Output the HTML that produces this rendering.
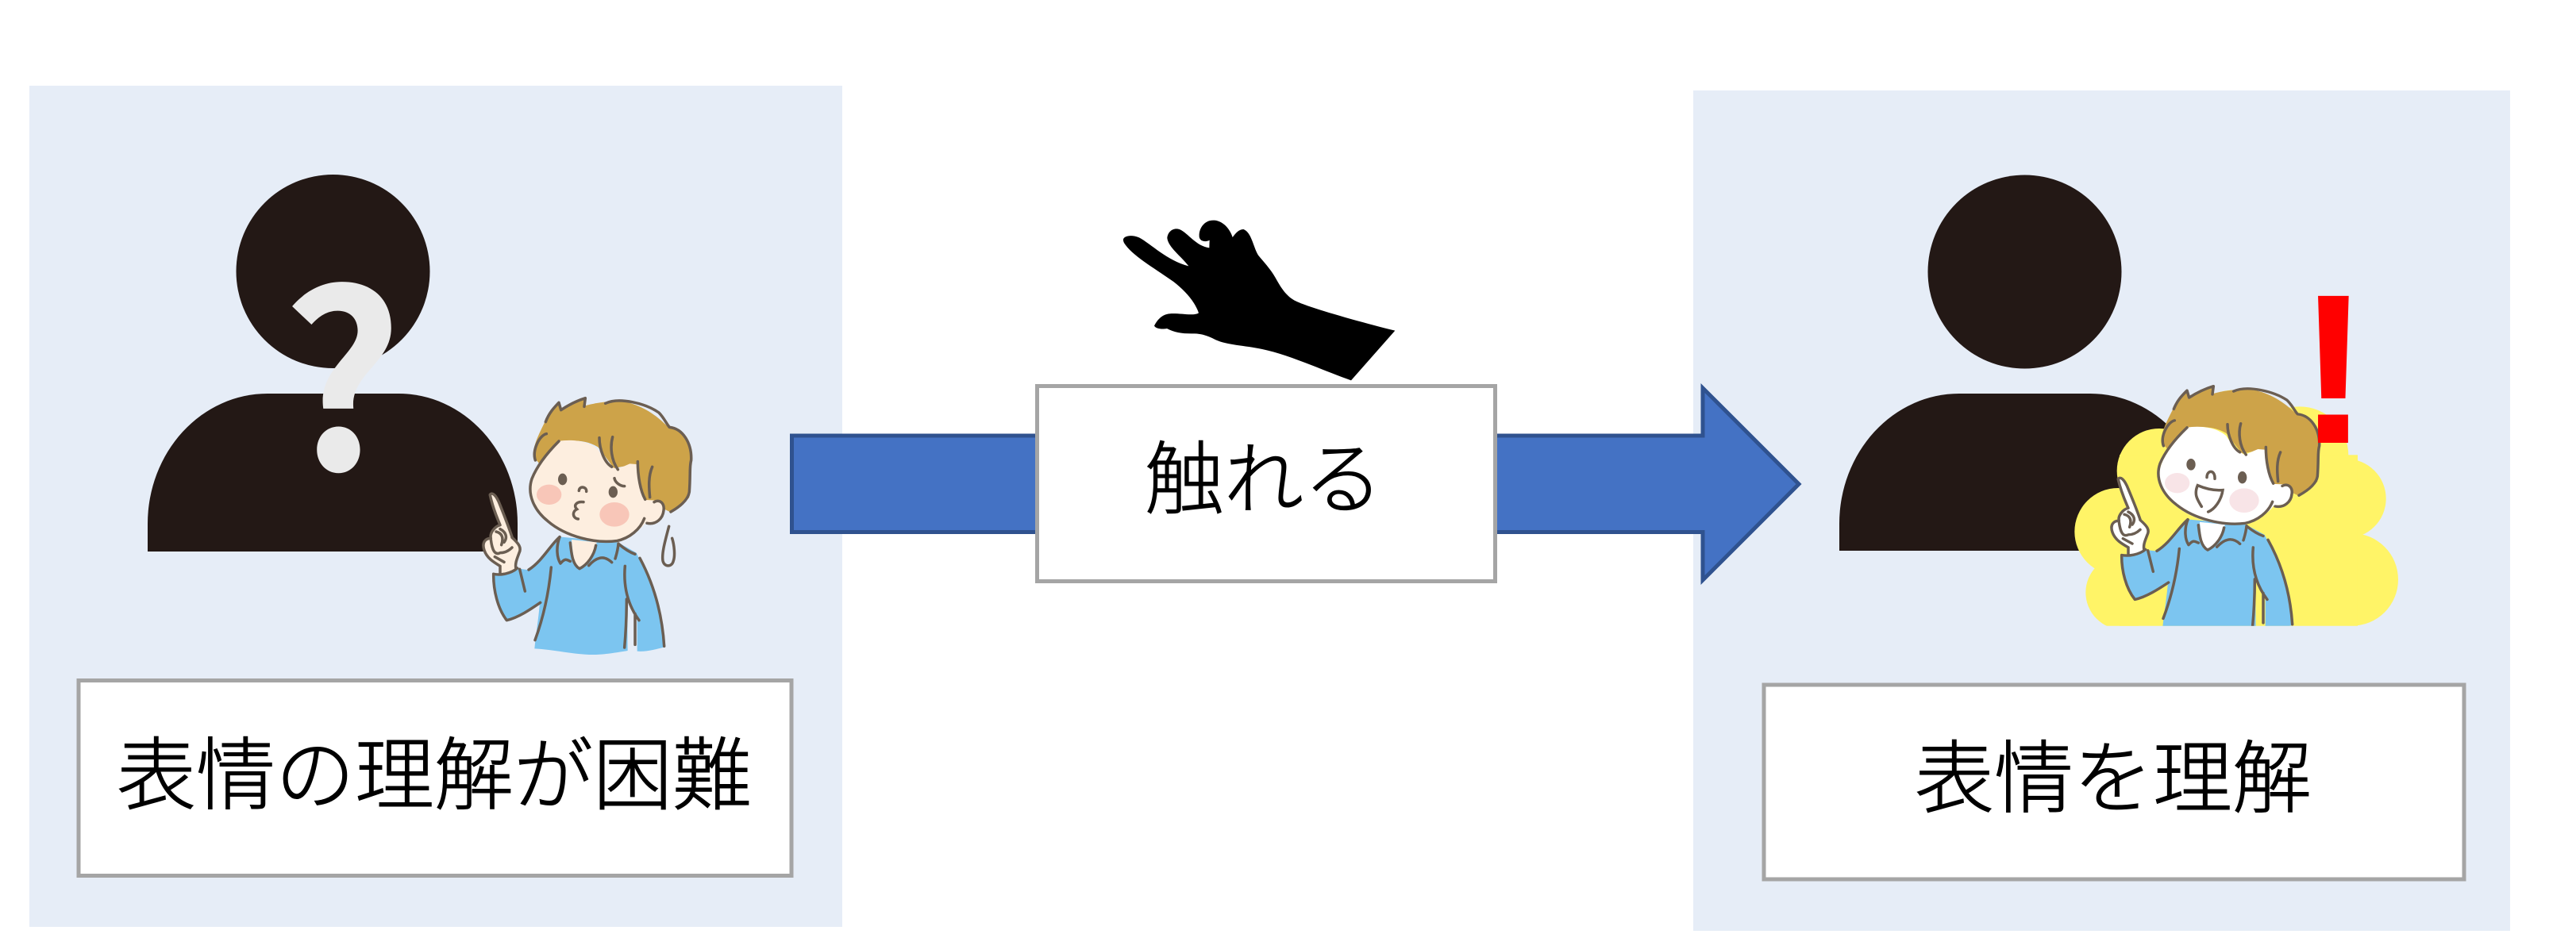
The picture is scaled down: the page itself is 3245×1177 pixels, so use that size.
<!DOCTYPE html>
<html lang="ja"><head><meta charset="utf-8"><title>表情の理解</title>
<style>html,body{margin:0;padding:0;background:#fff;width:3245px;height:1177px;overflow:hidden}svg{display:block}
.j{font-family:"Liberation Sans","Noto Sans CJK JP",sans-serif;font-weight:300;font-size:100px;text-anchor:middle;fill:#000;stroke:#000;stroke-width:1.1px}</style></head>
<body>
<svg width="3245" height="1177" viewBox="0 0 3245 1177" xmlns="http://www.w3.org/2000/svg">
<defs>
<clipPath id="cb"><rect x="2500" y="300" width="700" height="488.7"/></clipPath>
<g id="boy">
<path fill="#CDA349" d="M275 285C275 230 310 180 330 130L372 85L378 110L470 65L468 95C500 85 540 80 550 80C600 65 700 85 785 175C840 180 875 230 872 300C865 320 870 390 865 440C850 460 820 485 795 497L700 450L660 315L580 330L520 250C470 220 420 225 370 228L300 315Z"/>
<path fill="#7CC5F0" d="M120 735C125 790 140 860 175 905C220 895 270 860 300 838C295 900 285 960 280 1012C350 1015 430 1035 500 1035C550 1035 600 1025 632 1020L630 830L668 890L668 1022C700 1025 740 1015 775 1005C770 900 720 760 665 650L595 610L380 590C340 610 300 680 260 715L220 710Z"/>
<path fill="currentColor" d="M370 228C420 220 480 225 520 260C540 295 570 325 590 335L640 313L665 315C675 370 690 420 700 450L745 452C775 460 775 510 750 530L700 535C670 580 600 610 520 608C410 605 310 540 275 470C245 400 290 320 370 228Z"/>
<path fill="currentColor" d="M420 600C425 660 430 700 450 710C480 690 510 650 515 610Z"/>
<path fill="currentColor" d="M112 430C120 420 135 430 150 470C170 520 185 560 195 590C220 620 230 630 222 650C215 680 205 700 210 710C190 720 160 730 145 725L145 695C120 680 95 670 85 620C85 600 100 595 115 595C115 570 130 555 150 545C135 500 115 460 112 430Z"/>
<g fill="none" stroke="#6B5E52" stroke-width="10.5" stroke-linecap="round" stroke-linejoin="round">
<path d="M322 155C335 120 355 100 372 82L380 110C410 90 440 75 472 65L468 97M548 85C600 60 700 85 750 120C770 140 780 165 790 175C840 180 875 235 872 300C865 325 870 350 865 420C860 450 830 475 795 495"/>
<path d="M283 300C270 260 300 205 325 200"/>
<path d="M372 228C330 270 290 320 270 370C250 430 280 490 330 530C400 590 510 615 590 605C640 595 680 560 695 520"/>
<path d="M525 215C525 260 545 310 572 325M575 212C565 250 570 300 595 335M670 305C670 360 680 415 698 448M725 325C710 360 712 400 716 440"/>
<path d="M732 458C755 445 772 465 768 490C765 520 740 545 705 538"/>
<path d="M375 590C360 630 365 670 378 690C395 670 400 675 415 682M415 612C420 660 425 695 450 710C480 695 505 660 512 622M485 698C510 670 540 655 572 686M597 615C595 640 590 655 585 672M600 618C620 635 640 648 660 655"/>
<path d="M375 590C340 620 310 680 258 714M224 712L244 795M125 735C125 790 140 860 175 905C220 895 270 860 302 838M125 730C150 735 190 730 215 708"/>
<path d="M343 705C335 790 315 890 282 980M622 700C615 780 635 850 675 905M628 825C628 880 625 950 620 1008M660 880L660 997M678 670C710 730 760 840 770 1003"/>
<path d="M112 430C120 420 135 430 150 470C170 520 185 560 195 590M112 432C120 470 135 510 150 545C130 550 110 575 115 595C95 595 80 610 90 640C100 670 125 685 150 700M195 592C220 615 232 630 222 650C215 670 205 690 210 710M150 700V725M115 600C120 640 130 660 150 650C170 650 185 640 195 630M150 560C170 570 180 590 165 610M135 570C155 575 165 590 155 620M130 665L165 685"/>
</g>
</g>
</defs>
<rect width="3245" height="1177" fill="#fff"/>
<rect x="37" y="108" width="1024" height="1060" fill="#E6EDF7"/>
<rect x="2133" y="114" width="1029" height="1059" fill="#E6EDF7"/>
<circle cx="419.5" cy="342" r="122" fill="#231815"/>
<path fill="#231815" d="M186 695V660A151 164 0 0 1 337 496H502A150 164 0 0 1 652 660V695Z"/>
<text transform="translate(431 592) scale(.97 1)" font-family="'Noto Sans CJK JP',sans-serif" font-weight="700" font-size="306" text-anchor="middle" fill="#EAEAEA">?</text>
<circle cx="2550.5" cy="342.5" r="122" fill="#231815"/>
<path fill="#231815" d="M2317 694V660A151 164 0 0 1 2468 496H2633A150 164 0 0 1 2783 660V694Z"/>
<path d="M997.5 549H2145V489L2266 610L2145 731V670.5H997.5Z" fill="#4472C4" stroke="#2F528F" stroke-width="5"/>
<rect x="1306.5" y="486.5" width="577" height="246" fill="#fff" stroke="#A5A5A5" stroke-width="5"/>
<text class="j" x="1592" y="639" font-size="96">触れる</text>
<path fill="#000" transform="translate(1390 260) scale(.33333)" d="M75 125C78 112 105 106 135 118C180 142 240 205 322 226C295 190 245 155 241 120C243 95 265 78 290 88C320 102 350 150 400 157L401 128C390 135 365 135 362 115C360 80 385 50 420 53C455 56 480 90 488 117C500 100 515 85 530 87C560 100 565 150 585 185C605 210 630 235 650 270C675 315 695 345 735 362C795 388 980 440 1102 470L936 658C840 625 700 560 600 540C530 525 470 525 425 505C395 490 375 482 345 481C300 482 270 478 240 462C225 465 200 465 192 452C205 425 225 408 250 406C290 403 340 416 360 403C345 360 310 320 265 285C210 245 115 190 85 148C78 140 74 132 75 125Z"/>
<rect x="99" y="857.5" width="898" height="246" fill="#fff" stroke="#A5A5A5" stroke-width="5"/>
<text class="j" x="547" y="1012">表情の理解が困難</text>
<rect x="2222" y="863" width="882" height="245" fill="#fff" stroke="#A5A5A5" stroke-width="5"/>
<text class="j" x="2662" y="1016">表情を理解</text>
<use href="#boy" transform="translate(580 480) scale(.33333)" color="#FDEEDF"/>
<g transform="translate(580 480) scale(.33333)">
<ellipse cx="386" cy="372" rx="17" ry="22" fill="#6B5E52"/><ellipse cx="577" cy="420" rx="17" ry="22" fill="#6B5E52"/>
<ellipse cx="335" cy="430" rx="47" ry="38" fill="#F8C6B8"/><ellipse cx="582" cy="505" rx="56" ry="46" fill="#F8C6B8"/>
<path fill="none" stroke="#6B5E52" stroke-width="10.5" stroke-linecap="round" d="M448 415C450 395 478 400 476 418M465 458C440 455 425 470 440 485C420 495 425 520 445 522M582 368C585 385 605 398 620 398M788 550C775 600 760 650 765 680C770 705 800 705 805 680C812 660 808 620 800 595"/>
</g>
<g clip-path="url(#cb)">
<g transform="translate(2580 340) scale(.33333)" fill="#FFF467">
<circle cx="265" cy="990" r="165"/><circle cx="420" cy="760" r="160"/><circle cx="700" cy="640" r="185"/><circle cx="950" cy="702" r="185"/><circle cx="1127" cy="865" r="150"/><circle cx="1148" cy="1171" r="175"/><circle cx="282" cy="1220" r="140"/>
<rect x="270" y="700" width="900" height="660"/>
</g>
<use href="#boy" transform="translate(2580 340) scale(.33333) translate(153 440) scale(1 .96) translate(0 -65)" color="#FFFFFF"/>
<g transform="translate(2580 340) scale(.33333)">
<ellipse cx="540" cy="736" rx="17" ry="22" fill="#6B5E52"/><ellipse cx="734" cy="785" rx="17" ry="23" fill="#6B5E52"/>
<ellipse cx="488" cy="806" rx="47" ry="38" fill="#F8E4E7"/><ellipse cx="741" cy="872" rx="56" ry="46" fill="#F8E4E7"/>
<path fill="none" stroke="#6B5E52" stroke-width="10.5" stroke-linecap="round" d="M600 785C600 755 632 755 630 790M580 895C565 870 550 850 565 815C600 830 630 835 660 833C655 870 630 905 605 915"/>
</g>
</g>
<text x="2939.5" y="558" font-family="'Liberation Sans',sans-serif" font-weight="700" font-size="269" text-anchor="middle" fill="#FF0000">!</text>
</svg>
</body></html>
